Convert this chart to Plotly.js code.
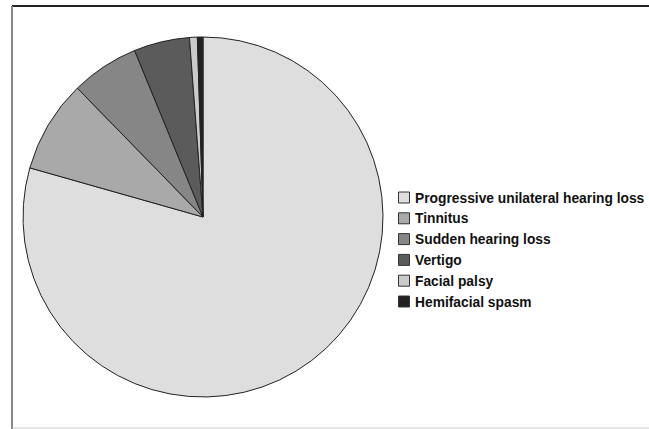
<!DOCTYPE html>
<html><head><meta charset="utf-8">
<script src="https://cdn.plot.ly/plotly-3.0.1.min.js"></script>
<style>html,body{margin:0;padding:0;background:#fff}#chart{width:649px;height:429px}</style>
</head><body><div id="chart"></div>
<script>
const labels = ["Progressive unilateral hearing loss","Tinnitus","Sudden hearing loss","Vertigo","Facial palsy","Hemifacial spasm"];
const values = [79.4, 8.3, 6.1, 5.0, 0.7, 0.5];
const colors = ["#dedede","#a9a9a9","#868686","#5b5b5b","#cbcbcb","#222222"];

const W = 649, H = 429;
const px = x => x / W;
const py = y => 1 - y / H;

const trace = {
  type: "pie", labels: labels, values: values, sort: false,
  direction: "clockwise", rotation: 0,
  marker: {colors: colors, line: {color: "#222", width: 1}},
  textinfo: "none", hoverinfo: "label+percent",
  domain: {x: [px(23), px(383)], y: [py(397), py(37)]}
};

const shapes = [
  {type:"line", xref:"paper", yref:"paper", x0:px(12), x1:1, y0:py(6), y1:py(6), line:{color:"#222", width:2}},
  {type:"line", xref:"paper", yref:"paper", x0:px(12), x1:px(12), y0:py(6), y1:0, line:{color:"#888", width:2}},
  {type:"line", xref:"paper", yref:"paper", x0:px(12), x1:1, y0:py(428), y1:py(428), line:{color:"#ccc", width:1}}
];
const annotations = [];
labels.forEach((lab, i) => {
  const cy = 197.5 + i * 20.8;
  shapes.push({type:"rect", xref:"paper", yref:"paper",
    x0:px(398.5), x1:px(409.5), y0:py(cy-5.5), y1:py(cy+5.5),
    fillcolor: colors[i], line:{color:"#333", width:1}});
  annotations.push({xref:"paper", yref:"paper", x:px(412.5), y:py(cy+0.5),
    xanchor:"left", yanchor:"middle", showarrow:false, text:lab,
    font:{family:"Liberation Sans, Arial, sans-serif", size:13.8, color:"#111", weight:"bold"}});
});

const layout = {
  width: W, height: H, margin: {l:0, r:0, t:0, b:0},
  paper_bgcolor: "#fff", showlegend: false,
  shapes: shapes, annotations: annotations
};
Plotly.newPlot("chart", [trace], layout, {displayModeBar: false, staticPlot: true});
</script></body></html>
